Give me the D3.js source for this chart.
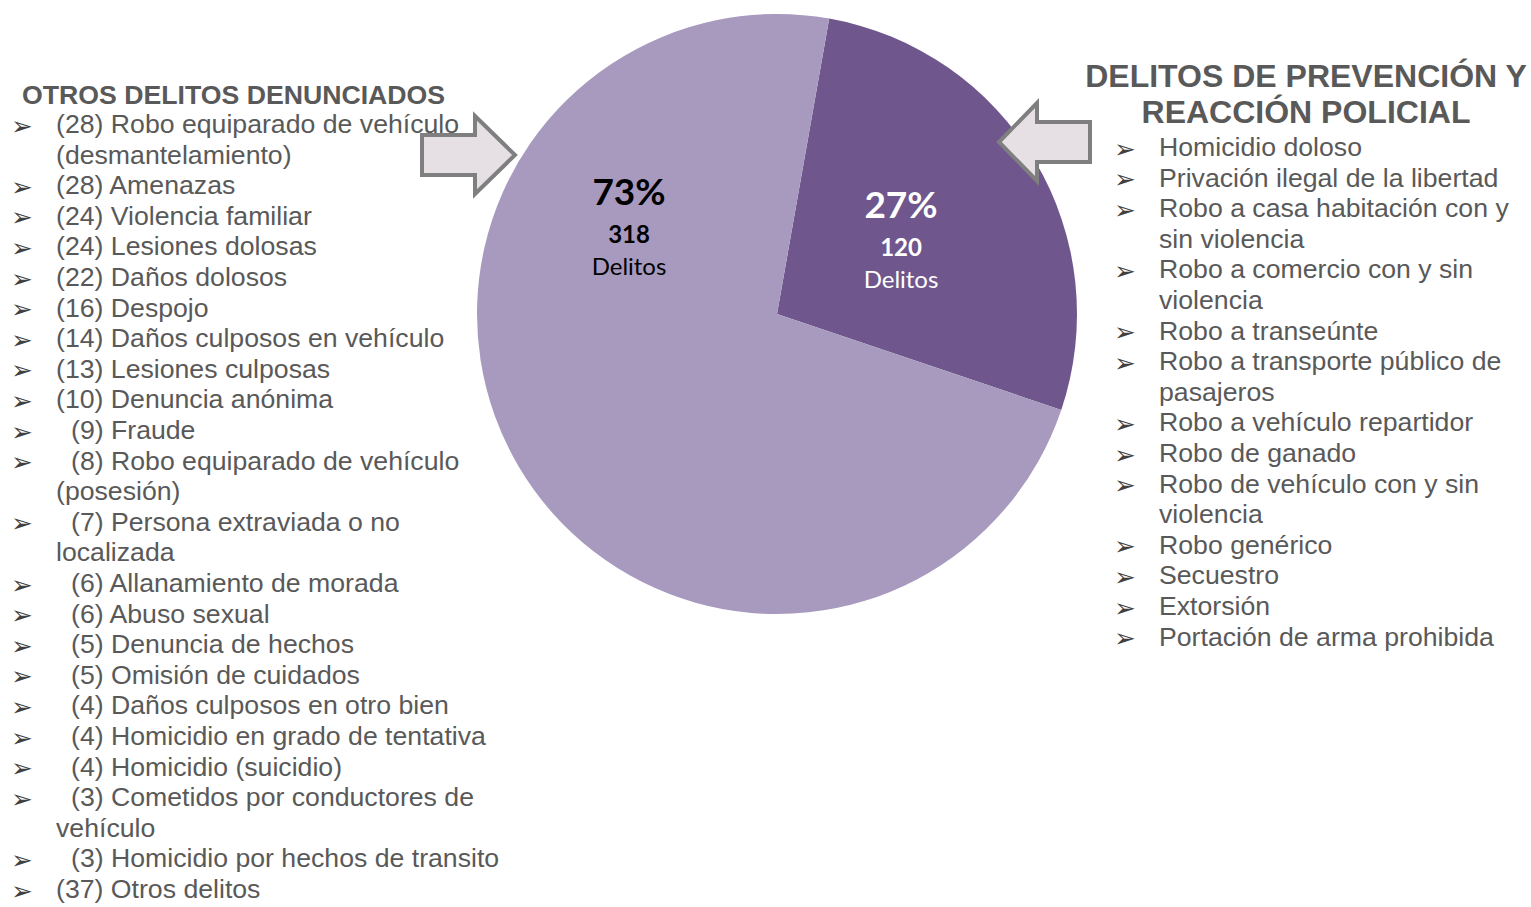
<!DOCTYPE html>
<html>
<head>
<meta charset="utf-8">
<script src="https://cdn.jsdelivr.net/npm/d3@7"></script>
<style>
  body { margin: 0; background: #fff; }
  svg { display: block; }
</style>
</head>
<body>
<div id="chart"></div>
<script>
// Pie slices (dark slice first, drawn clockwise)
var sliceNames = ["Delitos de prevención y reacción policial", "Otros delitos denunciados"];
var sliceValues = [120, 318];
var slicePercents = ["27%", "73%"];
var sliceUnit = "Delitos";

// Left list
var leftTitle = "OTROS DELITOS DENUNCIADOS";
var otherCounts = [28, 28, 24, 24, 22, 16, 14, 13, 10, 9, 8, 7, 6, 6, 5, 5, 4, 4, 4, 3, 3, 37];
var otherNames = [
  "Robo equiparado de vehículo (desmantelamiento)",
  "Amenazas",
  "Violencia familiar",
  "Lesiones dolosas",
  "Daños dolosos",
  "Despojo",
  "Daños culposos en vehículo",
  "Lesiones culposas",
  "Denuncia anónima",
  "Fraude",
  "Robo equiparado de vehículo (posesión)",
  "Persona extraviada o no localizada",
  "Allanamiento de morada",
  "Abuso sexual",
  "Denuncia de hechos",
  "Omisión de cuidados",
  "Daños culposos en otro bien",
  "Homicidio en grado de tentativa",
  "Homicidio (suicidio)",
  "Cometidos por conductores de vehículo",
  "Homicidio por hechos de transito",
  "Otros delitos"
];

// Right list
var rightTitle = ["DELITOS DE PREVENCIÓN Y", "REACCIÓN POLICIAL"];
var policeNames = [
  "Homicidio doloso",
  "Privación ilegal de la libertad",
  "Robo a casa habitación con y sin violencia",
  "Robo a comercio con y sin violencia",
  "Robo a transeúnte",
  "Robo a transporte público de pasajeros",
  "Robo a vehículo repartidor",
  "Robo de ganado",
  "Robo de vehículo con y sin violencia",
  "Robo genérico",
  "Secuestro",
  "Extorsión",
  "Portación de arma prohibida"
];

var width = 1531, height = 907;
var gray = "#595959";
var colors = ["#6F578D", "#A89ABE"];
var font = "'Liberation Sans', Arial, sans-serif";
var fontSize = 26.67;
var lineH = 30.6;

var svg = d3.select("#chart").append("svg")
  .attr("width", width)
  .attr("height", height);

// ---- pie ----
var cx = 777, cy = 314, radius = 300;

var pie = d3.pie()
  .sort(null)
  .startAngle(0.175)
  .endAngle(0.175 + 2 * Math.PI);

var arc = d3.arc().innerRadius(0).outerRadius(radius);

var pieG = svg.append("g").attr("transform", "translate(" + cx + "," + cy + ")");

pieG.selectAll("path")
  .data(pie(sliceValues))
  .enter().append("path")
  .attr("d", arc)
  .attr("fill", function (d, i) { return colors[i]; });

// label offsets from the centre (placed by hand like in the original)
var labelPos = [[124, -96], [-148, -109]];
var labelColor = ["#ffffff", "#000000"];

sliceValues.forEach(function (v, i) {
  var g = pieG.append("g")
    .attr("transform", "translate(" + labelPos[i][0] + "," + labelPos[i][1] + ")")
    .attr("fill", labelColor[i])
    .attr("text-anchor", "middle")
    .style("font-family", "Lato, 'Open Sans', sans-serif");
  g.append("text").attr("y", 0).style("font-size", "37px").style("font-weight", "bold")
    .text(slicePercents[i]);
  g.append("text").attr("y", 38).style("font-size", "24px").style("font-weight", "bold")
    .text(v);
  g.append("text").attr("y", 70).style("font-size", "24px")
    .text(sliceUnit);
});

// ---- arrows ----
function blockArrow(x0, yMid, bodyLen, headLen, bodyH, headH, dir) {
  // dir = 1 points right, -1 points left
  var pts = [
    [0, -bodyH / 2], [bodyLen, -bodyH / 2], [bodyLen, -headH / 2],
    [bodyLen + headLen, 0],
    [bodyLen, headH / 2], [bodyLen, bodyH / 2], [0, bodyH / 2]
  ];
  var p = pts.map(function (q) { return [x0 + dir * q[0], yMid + q[1]]; });
  svg.append("path")
    .attr("d", d3.line()(p) + "Z")
    .attr("fill", "#E6E0E4")
    .attr("stroke", "#7F7F7F")
    .attr("stroke-width", 4)
    .attr("stroke-linejoin", "miter");
}
blockArrow(422, 155, 53, 40, 40, 78, 1);
blockArrow(1090, 142, 53, 38, 40, 78, -1);

// ---- text lists ----
var measurer = svg.append("text").style("font-family", font)
  .style("font-size", fontSize + "px").attr("visibility", "hidden");
function textW(s) { measurer.text(s); return measurer.node().getComputedTextLength(); }

function wrap(s, maxW) {
  var words = s.split(" "), lines = [], cur = "";
  words.forEach(function (w) {
    var t = cur ? cur + " " + w : w;
    if (cur && textW(t) > maxW) { lines.push(cur); cur = w; } else { cur = t; }
  });
  lines.push(cur);
  return lines;
}

// y is the baseline of the first line
function drawList(items, bulletX, textX, firstY, maxRight, indents) {
  var y = firstY;
  items.forEach(function (s, i) {
    var ind = indents ? indents[i] : 0;
    var lines = wrap(s, maxRight - textX - ind);
    svg.append("text")
      .attr("x", bulletX).attr("y", y - 7.5)
      .attr("dominant-baseline", "central")
      .attr("fill", "#404040")
      .style("font-family", "sans-serif")
      .style("font-size", "26px")
      .text("\u27A2");
    lines.forEach(function (ln, j) {
      svg.append("text")
        .attr("x", textX + (j === 0 ? ind : 0))
        .attr("y", y)
        .attr("fill", gray)
        .style("font-family", font)
        .style("font-size", fontSize + "px")
        .text(ln);
      y += lineH;
    });
  });
}

// left
svg.append("text")
  .attr("x", 22).attr("y", 104)
  .attr("fill", gray)
  .style("font-family", font)
  .style("font-size", fontSize + "px").style("font-weight", "bold")
  .text(leftTitle);

var leftItems = otherNames.map(function (n, i) { return "(" + otherCounts[i] + ") " + n; });
var leftIndent = otherCounts.map(function (c) { return c < 10 ? 15 : 0; });
drawList(leftItems, 11, 56, 133, 510, leftIndent);

// right
rightTitle.forEach(function (t, i) {
  svg.append("text")
    .attr("x", 1306).attr("y", 87 + i * 36)
    .attr("text-anchor", "middle")
    .attr("fill", gray)
    .style("font-family", font)
    .style("font-size", "32px").style("font-weight", "bold")
    .text(t);
});
drawList(policeNames, 1114, 1159, 156, 1525, null);

measurer.remove();
</script>
</body>
</html>
